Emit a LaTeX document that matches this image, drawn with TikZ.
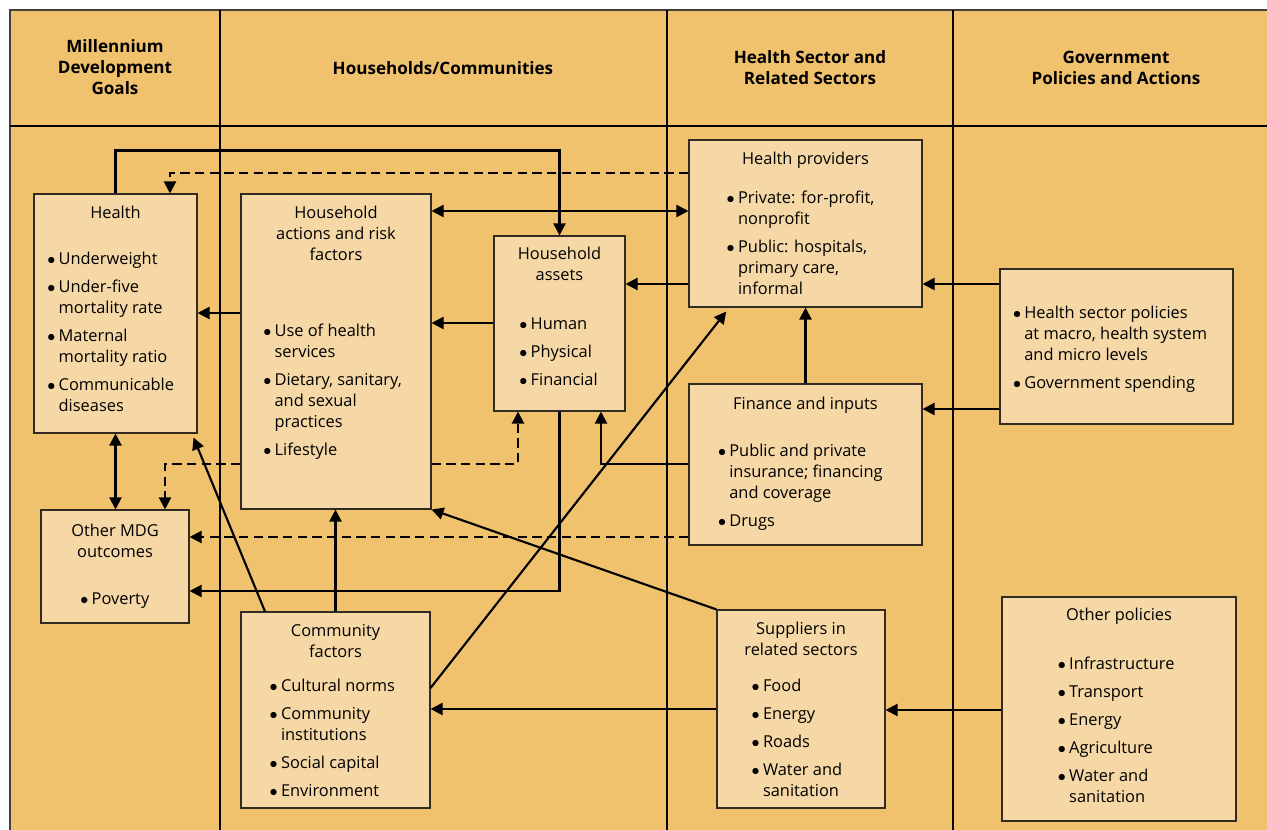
\documentclass[tikz,border=0pt]{standalone}
\usepackage{fontspec}
\setmainfont{Open Sans}
\usetikzlibrary{arrows.meta}

\definecolor{bgorange}{RGB}{240,194,110}
\definecolor{boxfill}{RGB}{246,216,166}
\definecolor{boxline}{RGB}{50,42,35}

% bullet lists inside the boxes
\newlength\bul \setlength\bul{8.5pt}
\newcommand{\ttl}[1]{{\centering\strut#1\par}}
\newcommand{\lst}[1]{\raggedright\let\\\newline\leftskip=#1\relax}
\newcommand{\itm}[1]{\par\hangindent=\bul\hangafter=1\noindent\makebox[\bul][l]{$\bullet$}\strut#1\par\vspace{5.25pt}}

\tikzset{
  box/.style={draw=boxline, fill=boxfill, line width=0.8pt, inner sep=0pt,
    font=\fontsize{12.3}{15.75}\selectfont},
  hdr/.style={align=center, font=\fontsize{12.8}{15.75}\selectfont\bfseries},
  arr/.style={line width=1.6pt, -{Triangle[length=9pt,width=9pt]}},
  arrb/.style={line width=1.6pt, {Triangle[length=9pt,width=9pt]}-{Triangle[length=9pt,width=9pt]}},
  dsh/.style={arr, dash pattern=on 7pt off 4pt},
}

\begin{document}
\begin{tikzpicture}[x=0.75pt, y=-0.75pt]
  \useasboundingbox (0,0) rectangle (1267,830);

  % --- frame and columns ---
  \fill[bgorange] (10,10) rectangle (1267,830);
  \draw[black!75, line width=1pt] (10,830) -- (10,10) -- (1267,10);
  \draw[line width=1.1pt] (10,126) -- (1267,126);
  \foreach \cx in {220,667,953}
    \draw[line width=1.1pt] (\cx,10) -- (\cx,830);

  % --- column headers ---
  \node[hdr] (hmdg) at (115,67) {Millennium\\Development\\Goals};
  \node[hdr] (hhh)  at (443,68) {Households/Communities};
  \node[hdr] (hsec) at (810,68) {Health Sector and\\Related Sectors};
  \node[hdr] (hgov) at (1116,68) {Government\\Policies and Actions};

  % --- boxes ---
  \node[box] (H) at (115.5,313.5) {\parbox[c][179.25pt][t]{122.25pt}{\vspace*{7.5pt}%
    \ttl{Health}\vspace{18.75pt}\lst{10pt}%
    \itm{Underweight}\itm{Under-five\\mortality rate}\itm{Maternal\\mortality ratio}%
    \itm{Communicable\\diseases}}};
  \node[box] (M) at (115,566.5) {\parbox[c][84.75pt][t]{111pt}{\vspace*{9pt}%
    \ttl{Other MDG\\outcomes}\vspace{19.5pt}\lst{29.5pt}%
    \itm{Poverty}}};
  \node[box] (A) at (336,351.5) {\parbox[c][236.25pt][t]{142.5pt}{\vspace*{7.5pt}%
    \ttl{Household\\actions and risk\\factors}\vspace{41.25pt}\lst{16.7pt}%
    \itm{Use of health\\services}\itm{Dietary, sanitary,\\and sexual\\practices}%
    \itm{Lifestyle}}};
  \node[box] (S) at (559.5,323.5) {\parbox[c][131.25pt][t]{98.25pt}{\vspace*{6.75pt}%
    \ttl{Household\\assets}\vspace{21pt}\lst{19pt}%
    \itm{Human}\itm{Physical}\itm{Financial}}};
  \node[box] (C) at (335.5,710) {\parbox[c][147pt][t]{141.75pt}{\vspace*{7.5pt}%
    \ttl{Community\\factors}\vspace{9.75pt}\lst{21.5pt}%
    \itm{Cultural norms}\itm{Community\\institutions}\itm{Social capital}%
    \itm{Environment}}};
  \node[box] (P) at (805.5,223.5) {\parbox[c][125.25pt][t]{174.75pt}{\vspace*{7.5pt}%
    \ttl{Health providers}\vspace{13.5pt}\lst{28.3pt}%
    \itm{Private: for-profit,\\nonprofit}\itm{Public: hospitals,\\primary care,\\informal}}};
  \node[box] (F) at (805.5,464.5) {\parbox[c][120.75pt][t]{174.75pt}{\vspace*{8.25pt}%
    \ttl{Finance and inputs}\vspace{19.5pt}\lst{21.75pt}%
    \itm{Public and private\\insurance; financing\\and coverage}\itm{Drugs}}};
  \node[box] (G) at (1116.5,346.5) {\parbox[c][116.25pt][t]{174.75pt}{\vspace*{26.3pt}%
    \lst{9.75pt}%
    \itm{Health sector policies\\at macro, health system\\and micro levels}%
    \itm{Government spending}}};
  \node[box] (U) at (801,709) {\parbox[c][148.5pt][t]{126pt}{\vspace*{7.5pt}%
    \ttl{Suppliers in\\related sectors}\vspace{11.25pt}\lst{26pt}%
    \itm{Food}\itm{Energy}\itm{Roads}\itm{Water and\\sanitation}}};
  \node[box] (O) at (1119,709) {\parbox[c][168pt][t]{175.5pt}{\vspace*{6.75pt}%
    \ttl{Other policies}\vspace{21pt}\lst{41.9pt}%
    \itm{Infrastructure}\itm{Transport}\itm{Energy}\itm{Agriculture}%
    \itm{Water and\\sanitation}}};

  % --- links ---
  \draw[arr] (H.north) -- ++(0,-43) -| (S.north);
  \draw[dsh] (P.west |- 0,173) -| (170,0 |- H.north);
  \draw[arrb] (A.east |- 0,211) -- (P.west |- 0,211);
  \draw[arr] (P.west |- 0,284) -- (S.east |- 0,284);
  \draw[arr] (A.west |- 0,313) -- (H.east |- 0,313);
  \draw[arr] (S.west |- 0,323) -- (A.east |- 0,323);
  \draw[arrb] (H.south) -- (H.south |- M.north);
  \draw[dsh] (A.west |- 0,464) -| (165,0 |- M.north);
  \draw[dsh] (A.east |- 0,464) -| (518,0 |- S.south);
  \draw[arr] (F.west |- 0,464) -| (601,0 |- S.south);
  \draw[dsh] (F.west |- 0,537) -- (M.east |- 0,537);
  \draw[arr] (S.south) |- (M.east |- 0,591);
  \draw[arr] (265,0 |- C.north) -- ([xshift=-3pt,yshift=-3pt]H.south east);
  \draw[arr] (C.north) -- (C.north |- A.south);
  \draw[arr] (C.east |- 0,688) -- ([xshift=28.3pt,yshift=-3pt]P.south west);
  \draw[arr] (U.north west) -- (A.south east);
  \draw[arr] (U.west) -- (U.west -| C.east);
  \draw[arr] (F.north) -- (F.north |- P.south);

  % policies into the health sector
  \draw[arr] (G.west |- 0,284) -- (P.east |- 0,284);
  \draw[arr] (G.west |- 0,409) -- (F.east |- 0,409);
  \draw[arr] (O.west |- 0,710) -- (U.east |- 0,710);

\end{tikzpicture}
\end{document}
